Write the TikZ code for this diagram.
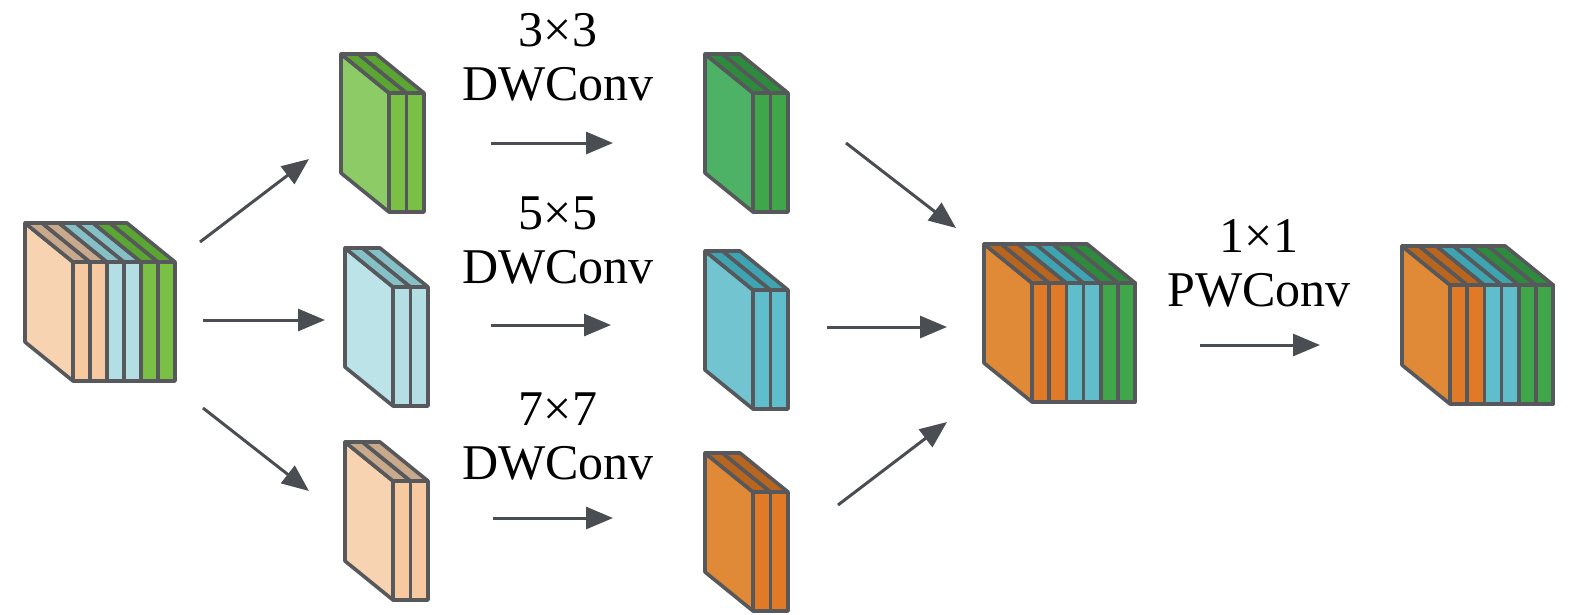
\documentclass[tikz,border=0pt]{standalone}
\usepackage{fontspec}
\setmainfont{Liberation Serif}
\usetikzlibrary{arrows.meta}

\definecolor{edge}{HTML}{56585B}
\definecolor{arrowgray}{HTML}{4A4E53}
% light inputs
\definecolor{peachside}{HTML}{F7D3B1}
\definecolor{peachfront}{HTML}{F6C9A0}
\definecolor{peachtop}{HTML}{C8A98B}
\definecolor{iceside}{HTML}{BCE4E8}
\definecolor{icefront}{HTML}{B3DEE4}
\definecolor{icetop}{HTML}{86C0C7}
\definecolor{limeside}{HTML}{8DCB66}
\definecolor{limefront}{HTML}{7AC045}
\definecolor{limetop}{HTML}{5BA533}
% convolved outputs
\definecolor{orangeside}{HTML}{E08A38}
\definecolor{orangefront}{HTML}{E07A27}
\definecolor{orangetop}{HTML}{B8651F}
\definecolor{tealside}{HTML}{72C4D0}
\definecolor{tealfront}{HTML}{5FBDCC}
\definecolor{tealtop}{HTML}{3FA4B2}
\definecolor{greenside}{HTML}{4DB266}
\definecolor{greenfront}{HTML}{3FA74A}
\definecolor{greentop}{HTML}{2E8B3E}

% one channel: front top-left corner, width, front colour, top colour
\newcommand{\chan}[5]{%
  \filldraw[fill=#5] (#1,#2) -- ++(#3,0) -- ++(-48,-39) -- ++(-#3,0) -- cycle;
  \filldraw[fill=#4] (#1,#2) rectangle ++(#3,119);}
% left face of a block
\newcommand{\sideface}[3]{%
  \filldraw[fill=#3] (#1,#2) -- ++(-48,-39) -- ++(0,119) -- ++(48,39) -- cycle;}

\begin{document}
\begin{tikzpicture}[x=1pt,y=-1pt,line width=3.6pt,line join=round,draw=edge,
  every node/.style={font=\fontsize{50}{54}\selectfont,align=center},
  arr/.style={draw=arrowgray,line width=3pt,-{Triangle[length=27pt,width=22pt]}}]
\useasboundingbox (0,0) rectangle (1575,614);

% input block
\sideface{73}{262}{peachside}
\chan{73}{262}{17}{peachfront}{peachtop}
\chan{90}{262}{17}{peachfront}{peachtop}
\chan{107}{262}{17}{icefront}{icetop}
\chan{124}{262}{17}{icefront}{icetop}
\chan{141}{262}{17}{limefront}{limetop}
\chan{158}{262}{17}{limefront}{limetop}

% split groups
\sideface{389}{93}{limeside}
\chan{389}{93}{17.5}{limefront}{limetop}
\chan{406.5}{93}{17.5}{limefront}{limetop}
\sideface{393}{287}{iceside}
\chan{393}{287}{17.5}{icefront}{icetop}
\chan{410.5}{287}{17.5}{icefront}{icetop}
\sideface{393}{481}{peachside}
\chan{393}{481}{17.5}{peachfront}{peachtop}
\chan{410.5}{481}{17.5}{peachfront}{peachtop}

% after DWConv
\sideface{753}{93}{greenside}
\chan{753}{93}{17.5}{greenfront}{greentop}
\chan{770.5}{93}{17.5}{greenfront}{greentop}
\sideface{753}{290}{tealside}
\chan{753}{290}{17.5}{tealfront}{tealtop}
\chan{770.5}{290}{17.5}{tealfront}{tealtop}
\sideface{753}{492}{orangeside}
\chan{753}{492}{17.5}{orangefront}{orangetop}
\chan{770.5}{492}{17.5}{orangefront}{orangetop}

% concatenated
\sideface{1032}{283}{orangeside}
\chan{1032}{283}{17.2}{orangefront}{orangetop}
\chan{1049.2}{283}{17.2}{orangefront}{orangetop}
\chan{1066.4}{283}{17.2}{tealfront}{tealtop}
\chan{1083.6}{283}{17.2}{tealfront}{tealtop}
\chan{1100.8}{283}{17.2}{greenfront}{greentop}
\chan{1118}{283}{17.2}{greenfront}{greentop}

% after PWConv
\sideface{1450}{285}{orangeside}
\chan{1450}{285}{17.2}{orangefront}{orangetop}
\chan{1467.2}{285}{17.2}{orangefront}{orangetop}
\chan{1484.4}{285}{17.2}{tealfront}{tealtop}
\chan{1501.6}{285}{17.2}{tealfront}{tealtop}
\chan{1518.8}{285}{17.2}{greenfront}{greentop}
\chan{1536}{285}{17.2}{greenfront}{greentop}

% labels
\node (k3) at (558,57) {3×3\\DWConv};
\node (k5) at (558,241) {5×5\\DWConv};
\node (k7) at (558,436) {7×7\\DWConv};
\node (pw) at (1259,263) {1×1\\PWConv};

% arrow ends
\coordinate (in-t) at (200,242);
\coordinate (in-m) at (203,320);
\coordinate (in-b) at (203,408);
\coordinate (sp-t) at (309,159);
\coordinate (sp-m) at (325,320);
\coordinate (sp-b) at (309,491);
\coordinate (dw-t0) at (491,143);
\coordinate (dw-t1) at (613,143);
\coordinate (dw-m0) at (491,325);
\coordinate (dw-m1) at (611,325);
\coordinate (dw-b0) at (493,518);
\coordinate (dw-b1) at (613,518);
\coordinate (cat-t0) at (846,143);
\coordinate (cat-t1) at (956,228);
\coordinate (cat-m0) at (827,327);
\coordinate (cat-m1) at (947,327);
\coordinate (cat-b0) at (838,505);
\coordinate (cat-b1) at (947,422);
\coordinate (pw0) at (1200,345);
\coordinate (pw1) at (1320,345);

\draw[arr] (in-t) -- (sp-t);
\draw[arr] (in-m) -- (sp-m);
\draw[arr] (in-b) -- (sp-b);
\draw[arr] (dw-t0) -- (dw-t1);
\draw[arr] (dw-m0) -- (dw-m1);
\draw[arr] (dw-b0) -- (dw-b1);
\draw[arr] (cat-t0) -- (cat-t1);
\draw[arr] (cat-m0) -- (cat-m1);
\draw[arr] (cat-b0) -- (cat-b1);
\draw[arr] (pw0) -- (pw1);
\end{tikzpicture}
\end{document}
